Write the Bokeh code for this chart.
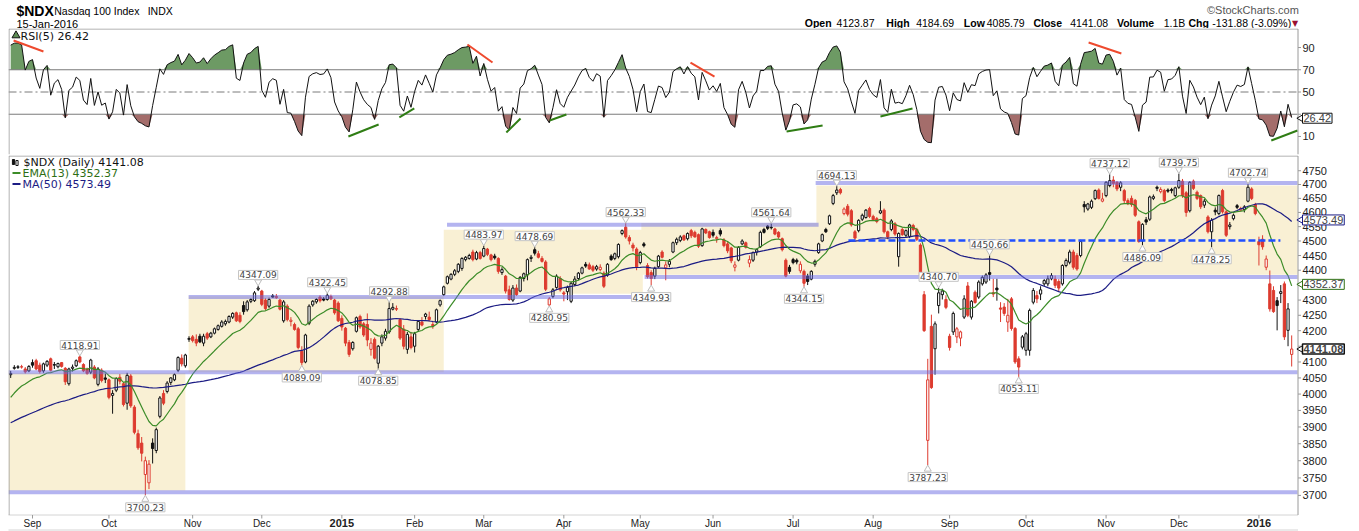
import numpy as np
import pandas as pd
from bokeh.plotting import figure
from bokeh.layouts import column
from bokeh.models import Range1d, Label
from bokeh.core.properties import value
from bokeh.embed import file_html
from bokeh.resources import INLINE

# ---------------- data (O, H, L, C per trading day) ----------------
ohlc_2014_08 = [(4060,4072,4050,4064),(4080,4090,4076,4083),(4083,4090,4078,4085),(4085,4091,4079,4084),(4078,4084,4064,4069),(4072,4090,4068,4086)]
ohlc_2014_09 = [(4098,4108,4082,4090),(4104,4110,4074,4078),(4090,4098,4064,4070),(4072,4098,4066,4094),(4090,4106,4084,4102),
    (4110,4114,4070,4074),(4092,4100,4078,4090),(4085,4098,4080,4095),(4098,4100,4082,4086),(4080,4084,4028,4038),
    (4032,4082,4026,4078),(4080,4092,4070,4084),(4088,4108,4084,4104),(4116,4118.91,4096,4100),(4092,4096,4068,4072),
    (4078,4082,4060,4064),(4068,4110,4062,4106),(4084,4090,4046,4050),(4030,4084,4024,4078),(4074,4080,4036,4042),
    (4050,4064,4034,4046)]
ohlc_2014_10 = [(4044,4048,3984,3990),(3996,4012,3940,4002),(4012,4052,4006,4048),(4052,4062,4030,4040),(4032,4036,3962,3968),
    (3972,4066,3952,4058),(4056,4062,3958,3964),(3960,3966,3878,3884),(3880,3892,3832,3838),(3852,3870,3798,3822),
    (3760,3812,3700.23,3800),(3736,3802,3718,3790),(3852,3866,3792,3836),(3830,3898,3822,3892),(3932,3994,3926,3988),
    (4002,4012,3966,3972),(4008,4040,4002,4034),(4036,4052,4028,4050),(4044,4064,4040,4060),(4074,4118,4068,4114),
    (4112,4124,4086,4094),(4088,4126,4082,4122),(4172,4182,4164,4175)]
ohlc_2014_11 = [(4180,4186,4162,4168),(4172,4188,4150,4160),(4182,4190,4160,4164),(4160,4190,4150,4182),(4190,4196,4170,4176),
    (4180,4196,4176,4192),(4192,4210,4188,4206),(4204,4220,4200,4216),(4214,4234,4210,4228),(4222,4236,4216,4230),
    (4228,4250,4224,4246),(4244,4260,4238,4256),(4258,4262,4228,4232),(4250,4260,4224,4230),(4282,4296,4252,4262),
    (4268,4300,4262,4294),(4296,4306,4290,4302),(4298,4330,4294,4324),(4336,4347.09,4330,4340)]
ohlc_2014_12 = [(4330,4334,4280,4286),(4300,4306,4266,4272),(4280,4308,4274,4302),(4314,4320,4308,4310),(4312,4320,4304,4308),
    (4300,4304,4266,4270),(4232,4300,4226,4294),(4280,4286,4230,4236),(4230,4244,4214,4234),(4220,4226,4200,4204),
    (4206,4212,4140,4146),(4134,4150,4089.09,4098),(4100,4190,4096,4186),(4224,4286,4218,4280),(4284,4300,4278,4296),
    (4294,4306,4288,4302),(4310,4316,4292,4298),(4304,4310,4296,4300),(4302,4322.45,4298,4316),(4312,4318,4300,4304),
    (4300,4304,4252,4258),(4290,4296,4228,4232)]
ohlc_2015_01 = [(4240,4250,4200,4212),(4208,4212,4150,4160),(4162,4170,4116,4124),(4142,4166,4136,4162),(4198,4246,4194,4242),
    (4246,4252,4206,4212),(4222,4228,4180,4186),(4220,4256,4150,4170),(4140,4176,4120,4160),(4172,4178,4108,4112),
    (4096,4154,4078.85,4150),(4160,4188,4150,4180),(4176,4206,4168,4198),(4196,4292.88,4190,4272),(4270,4290,4266,4276),
    (4272,4282,4264,4270),(4236,4240,4170,4176),(4205,4218,4140,4150),(4140,4196,4126,4188),(4180,4196,4140,4146)]
ohlc_2015_02 = [(4150,4196,4130,4190),(4204,4234,4196,4230),(4228,4244,4214,4218),(4246,4258,4236,4254),(4244,4262,4230,4236),
    (4220,4232,4206,4216),(4228,4272,4224,4268),(4284,4302,4278,4298),(4318,4348,4314,4344),(4356,4382,4352,4378),
    (4370,4390,4366,4386),(4386,4404,4380,4398),(4396,4424,4390,4420),(4406,4444,4398,4440),(4436,4448,4430,4444),
    (4440,4456,4436,4450),(4462,4470,4430,4436),(4438,4466,4434,4460),(4460,4466,4436,4440)]
ohlc_2015_03 = [(4448,4483.97,4444,4474),(4472,4476,4448,4454),(4452,4456,4430,4436),(4448,4456,4436,4442),(4440,4444,4388,4396),
    (4392,4410,4384,4402),(4380,4384,4322,4330),(4334,4348,4298,4302),(4300,4350,4294,4340),(4340,4352,4314,4318),
    (4330,4380,4326,4376),(4372,4392,4362,4388),(4384,4440,4366,4436),(4440,4452,4428,4444),(4470,4478.69,4450,4458),
    (4456,4466,4440,4444),(4440,4448,4426,4430),(4428,4434,4330,4336),(4284,4310,4280.95,4304),(4312,4340,4306,4334),
    (4342,4386,4338,4380),(4372,4380,4328,4334)]
ohlc_2015_04 = [(4324,4330,4296,4320),(4328,4348,4300,4342),(4296,4360,4290,4356),(4352,4380,4346,4370),(4372,4394,4366,4390),
    (4390,4412,4386,4408),(4420,4428,4408,4414),(4418,4426,4402,4404),(4412,4418,4394,4400),(4404,4418,4398,4412),
    (4402,4420,4396,4410),(4390,4396,4340,4346),(4384,4424,4378,4420),(4448,4454,4432,4436),(4440,4460,4434,4456),
    (4446,4492,4440,4488),(4526,4540,4520,4536),(4548,4562.33,4508,4514),(4512,4520,4488,4500),(4486,4494,4464,4476),
    (4472,4478,4400,4410)]
ohlc_2015_05 = [(4426,4466,4420,4460),(4490,4496,4478,4484),(4416,4424,4372,4378),(4392,4400,4349.93,4372),(4380,4412,4370,4406),
    (4412,4452,4408,4448),(4462,4468,4440,4444),(4408,4430,4366,4418),(4420,4438,4410,4430),(4462,4498,4458,4494),
    (4494,4512,4486,4506),(4502,4520,4496,4514),(4518,4522,4500,4504),(4508,4530,4502,4526),(4536,4542,4510,4518),
    (4530,4536,4512,4514),(4522,4526,4476,4482),(4484,4546,4480,4542),(4540,4544,4524,4528),(4532,4536,4508,4512)]
ohlc_2015_06 = [(4530,4540,4512,4520),(4508,4518,4494,4512),(4536,4544,4516,4524),(4504,4510,4478,4484),(4490,4496,4458,4466),
    (4476,4480,4424,4432),(4410,4430,4396,4418),(4434,4482,4430,4478),(4490,4506,4486,4500),(4494,4498,4474,4478),
    (4424,4450,4410,4436),(4434,4464,4428,4460),(4462,4474,4450,4470),(4480,4536,4476,4530),(4540,4546,4526,4530),
    (4552,4556,4538,4544),(4548,4561.64,4540,4546),(4542,4546,4520,4524),(4530,4534,4508,4514),(4508,4512,4464,4470),
    (4434,4440,4376,4380),(4410,4418,4388,4396)]
ohlc_2015_07 = [(4436,4442,4420,4426),(4434,4440,4420,4428),(4398,4430,4390,4420),(4396,4402,4344.15,4356),(4380,4388,4350,4362),
    (4370,4400,4366,4396),(4420,4436,4412,4430),(4460,4494,4456,4490),(4500,4526,4496,4522),(4540,4546,4528,4532),
    (4560,4592,4556,4588),(4632,4666,4626,4660),(4670,4694.13,4662,4680),(4682,4688,4664,4670),(4596,4618,4590,4612),
    (4622,4630,4586,4594),(4606,4612,4550,4556),(4532,4538,4504,4510),(4536,4576,4530,4572),(4576,4596,4570,4590),
    (4582,4612,4578,4608),(4614,4620,4580,4586)]
ohlc_2015_08 = [(4586,4592,4570,4574),(4578,4584,4562,4568),(4598,4640,4594,4606),(4608,4614,4526,4532),(4532,4536,4506,4514),
    (4540,4576,4534,4570),(4560,4566,4518,4524),(4446,4530,4412,4526),(4540,4546,4518,4522),(4520,4540,4514,4536),
    (4516,4560,4510,4556),(4554,4560,4534,4540),(4540,4546,4500,4506),(4486,4492,4376,4380),(4318,4330,4196,4200),
    (3860,4110,3787.23,4044),(4214,4252,4016,4020),(4142,4230,4060,4222),(4282,4340.70,4256,4324),(4318,4338,4302,4330),
    (4302,4316,4270,4276)]
ohlc_2015_09 = [(4182,4190,4136,4146),(4196,4262,4186,4256),(4180,4212,4160,4206),(4176,4200,4150,4196),(4244,4316,4238,4304),
    (4347,4360,4244,4250),(4244,4300,4236,4296),(4326,4332,4288,4292),(4310,4366,4304,4360),(4354,4382,4348,4376),
    (4360,4390,4354,4384),(4392,4450.66,4365,4386),(4324,4371,4310,4320),(4340,4371,4298,4334),(4274,4293,4228,4270),
    (4277,4290,4248,4256),(4228,4304,4196,4250),(4304,4310,4200,4207),(4207,4212,4094,4100),(4110,4118,4053.11,4084),
    (4147,4186,4140,4180)]
ohlc_2015_10 = [(4137,4196,4120,4190),(4137,4272,4120,4266),(4293,4340,4286,4332),(4315,4330,4290,4304),(4320,4346,4300,4334),
    (4354,4370,4346,4365),(4354,4382,4346,4371),(4371,4390,4366,4382),(4370,4382,4340,4349),(4362,4370,4330,4340),
    (4354,4420,4348,4416),(4416,4440,4410,4433),(4427,4470,4420,4462),(4462,4470,4402,4410),(4450,4458,4398,4404),
    (4450,4504,4444,4498),(4628,4640,4600,4620),(4612,4634,4606,4630),(4618,4646,4612,4640),(4649,4682,4644,4678),
    (4680,4686,4646,4650),(4640,4670,4636,4648)]
ohlc_2015_11 = [(4660,4712,4654,4708),(4696,4737.12,4690,4714),(4716,4730,4690,4704),(4708,4712,4676,4684),(4690,4712,4676,4706),
    (4678,4684,4630,4642),(4642,4650,4626,4631),(4650,4660,4620,4628),(4643,4648,4584,4590),(4567,4572,4494,4498),
    (4500,4562,4486.09,4558),(4574,4584,4556,4566),(4576,4660,4570,4655),(4650,4664,4644,4656),(4690,4696,4676,4686),
    (4674,4690,4668,4682),(4678,4684,4636,4642),(4680,4686,4670,4676),(4682,4688,4668,4678),(4660,4692,4654,4688)]
ohlc_2015_12 = [(4690,4739.75,4684,4714),(4712,4720,4652,4660),(4670,4676,4585,4600),(4606,4712,4600,4708),(4712,4718,4680,4686),
    (4672,4678,4644,4650),(4660,4664,4612,4620),(4626,4648,4616,4640),(4584,4590,4526,4532),(4532,4580,4478.25,4572),
    (4608,4618,4590,4602),(4596,4664,4590,4660),(4678,4684,4596,4602),(4602,4608,4514,4520),(4550,4566,4540,4556),
    (4578,4596,4572,4590),(4624,4630,4612,4618),(4608,4620,4604,4614),(4610,4626,4600,4620),(4640,4702.74,4636,4690),
    (4684,4690,4644,4650),(4628,4634,4590,4596)]
ohlc_2016_01 = [(4498,4515,4416,4487),(4506,4520,4470,4480),(4410,4450,4400,4438),(4354,4399,4262,4271),(4332,4346,4258,4262),
    (4298,4310,4201,4282),(4322,4350,4290,4328),(4354,4362,4170,4180),(4201,4290,4150,4271),(4123.87,4184.69,4085.79,4141.08)]

# closes before the first bar (only used to seed the moving averages / RSI)
warmup_closes = [3800,3790,3800,3815,3820,3840,3845,3850,3850,3835,3855,3860,3870,3880,
    3910,3920,3935,3920,3880,3905,3895,3900,3925,3905,3915,3870,3920,3915,3935,3960,3965,3945,3945,3940,3950,3890,
    3875,3905,3875,3880,3865,3905,3930,3925,3960,3980,3990,4015,4030,4030,4035]

market_holidays = ["2014-09-01","2014-11-27","2014-12-25","2015-01-01","2015-01-19","2015-02-16","2015-04-03",
                   "2015-05-25","2015-07-03","2015-09-07","2015-11-26","2015-12-25","2016-01-01"]

high_labels = [4118.91, 4347.09, 4322.45, 4292.88, 4483.97, 4478.69, 4562.33, 4561.64, 4694.13, 4340.70,
               4450.66, 4737.12, 4739.75, 4702.74]
low_labels = [3700.23, 4089.09, 4078.85, 4280.95, 4349.93, 4344.15, 3787.23, 4053.11, 4486.09, 4478.25]

# last values shown in the tags on the right-hand axis
tag_values = [4573.49, 4352.37, 4141.08]
rsi_last = 26.42

# shaded trading ranges (x in bar index units, y in price)
box_left = [-0.6, 48.9, 119.0, 173.3, 221.4]
box_right = [48.0, 119.0, 173.7, 222.0, 353.6]
box_bottom = [3714, 4068, 4321, 4385, 4385]
box_top = [4065, 4313, 4539, 4563, 4696]

# support / resistance lines
sr_level = [4068, 3709, 4310, 4557, 4377, 4705]
sr_start = [-0.6, -0.6, 48.9, 119.9, 174.2, 221.2]
sr_end = [353.6, 353.6, 173.1, 222.0, 353.6, 353.6]
dash_level, dash_start, dash_end = 4502, 230.2, 348.9

# RSI divergence trendlines (x0, rsi0, x1, rsi1, kind)
rsi_trend = [(0.8, 96.3, 9.0, 86.4, "r"), (92.8, 10.0, 101.1, 20.8, "g"), (106.8, 27.1, 110.9, 35.2, "g"),
             (125.5, 92.7, 132.4, 76.5, "r"), (136.2, 13.6, 140.1, 26.2, "g"), (148.1, 24.4, 152.7, 29.8, "g"),
             (186.8, 76.5, 193.4, 63.9, "r"), (213.2, 14.5, 223.1, 19.9, "g"), (239.0, 28.0, 247.8, 35.2, "g"),
             (296.2, 94.5, 305.2, 84.6, "r"), (346.4, 6.4, 353.6, 15.4, "g")]

price_ticks = [3700, 3750, 3800, 3850, 3900, 3950, 4000, 4050, 4100, 4150, 4200, 4250, 4300, 4350,
               4400, 4450, 4500, 4550, 4600, 4650, 4700, 4750]
rsi_ticks = [10, 30, 50, 70, 90]

# ---------------- preparation ----------------
rows = (ohlc_2014_08 + ohlc_2014_09 + ohlc_2014_10 + ohlc_2014_11 + ohlc_2014_12 + ohlc_2015_01 + ohlc_2015_02 +
        ohlc_2015_03 + ohlc_2015_04 + ohlc_2015_05 + ohlc_2015_06 + ohlc_2015_07 + ohlc_2015_08 + ohlc_2015_09 +
        ohlc_2015_10 + ohlc_2015_11 + ohlc_2015_12 + ohlc_2016_01)
O = np.array([r[0] for r in rows], float)
H = np.array([r[1] for r in rows], float)
L = np.array([r[2] for r in rows], float)
C = np.array([r[3] for r in rows], float)
H = np.maximum(H, np.maximum(O, C))
L = np.minimum(L, np.minimum(O, C))

dates = pd.bdate_range("2014-08-22", "2016-01-15")
dates = dates[~dates.isin(pd.to_datetime(market_holidays))]
N = len(rows)
assert len(dates) == N, (len(dates), N)
idx = np.arange(N)

allc = np.concatenate([np.array(warmup_closes, float), C])
ema13 = pd.Series(allc).ewm(span=13, adjust=False).mean().values[-N:]
ma50 = pd.Series(allc).rolling(50).mean().values[-N:]
dd = np.diff(allc)
gain = np.clip(dd, 0, None)
loss = np.clip(-dd, 0, None)
ag = np.full(len(dd), np.nan)
al = np.full(len(dd), np.nan)
ag[4] = gain[:5].mean()
al[4] = loss[:5].mean()
for k in range(5, len(dd)):
    ag[k] = (ag[k - 1] * 4 + gain[k]) / 5
    al[k] = (al[k - 1] * 4 + loss[k]) / 5
rsi = (100 - 100 / (1 + ag / np.maximum(al, 1e-9)))[-N:]

prevC = np.concatenate([[warmup_closes[-1]], C[:-1]])
RED, BLK = "#dd3b2f", "#111111"
col = np.where(C < prevC, RED, BLK)
fill = np.where(C >= O, "white", col)

# ---------------- geometry ----------------
W = 1359
LB, FW = 8, 1289            # plotting area: x 8..1297
X0, X1 = -0.6, 353.6        # bar-index range across that area
SC = (X1 - X0) / FW
XE = X0 + (W - LB) * SC     # frame extends over the right-hand axis strip
PT, PH = 155, 359
P_TOP, P_BOT = 4806.0, 3646.0
KP = PH / np.log(P_TOP / P_BOT)
RT, RH = 28, 126
R_LO, R_HI = -6.2, 107.1
AXC = "#9a9a9a"


def xd(px):
    return X0 + (px - LB) * SC


def pyv(ypx):
    return P_TOP * np.exp(-(ypx - PT) / KP)


def ryv(ypx):
    return R_HI - (ypx - RT) * (R_HI - R_LO) / RH


FA = "Liberation Sans"
FL = "DejaVu Sans"


def txt(fig, x, y, t, size, bold=False, color="#000000", font=FA, align="left"):
    fig.text(x=x if isinstance(x, list) else [x], y=y if isinstance(y, list) else [y],
             text=t if isinstance(t, list) else [t], text_font=value(font), text_font_size=size,
             text_font_style="bold" if bold else "normal", text_color=color,
             text_baseline="middle", text_align=align)


xr = Range1d(X0, XE)

# ---------------- header ----------------
hdr = figure(width=W, height=RT, x_range=Range1d(0, W), y_range=Range1d(RT, 0), x_axis_type=None,
             y_axis_type=None, toolbar_location=None, output_backend="svg", min_border=0)
hdr.outline_line_color = None
hdr.grid.visible = False

txt(hdr, 8, 10, "$NDX", "14px", bold=True)
txt(hdr, 46, 10, "Nasdaq 100 Index", "10.5px")
txt(hdr, 140, 10, "INDX", "10.5px")
txt(hdr, 8, 23, "15-Jan-2016", "11px")
txt(hdr, 1298, 9, "\u00a9StockCharts.com", "11px", color="#555555", align="right")
hdr_parts = [(801, "Open", True), (833, "4123.87", False), (883, "High", True), (913, "4184.69", False),
             (961, "Low", True), (984, "4085.79", False), (1031, "Close", True), (1068, "4141.08", False),
             (1115, "Volume", True), (1162, "1.1B", False), (1187, "Chg", True), (1211, "-131.88 (-3.09%)", False)]
for x, t, b in hdr_parts:
    txt(hdr, x, 22.5, t, "10.5px", bold=b)
txt(hdr, 1291, 22.5, "\u25bc", "8px", color="#9a1030", font=FL)

# ---------------- RSI panel ----------------
r = figure(width=W, height=RH + 1, x_range=xr, y_range=Range1d(R_LO, R_HI), x_axis_location=None,
           y_axis_location=None, toolbar_location=None, output_backend="svg",
           min_border_left=LB, min_border_right=0, min_border_top=0, min_border_bottom=1)
r.grid.visible = False
r.outline_line_color = None
r.varea(x=idx, y1=np.full(N, 70.0), y2=np.maximum(rsi, 70), fill_color="#6d9a64")
r.varea(x=idx, y1=np.minimum(rsi, 30), y2=np.full(N, 30.0), fill_color="#a46d6b")
for lvl, dash in [(70, "solid"), (30, "solid"), (50, "8 3 2 3")]:
    r.segment(x0=[X0], y0=[lvl], x1=[X1], y1=[lvl], line_color="#7a7a7a", line_width=1, line_dash=dash)
r.line(idx, rsi, color="#111111", line_width=1)
for x0, v0, x1, v1, kind in rsi_trend:
    r.segment(x0=[x0], y0=[v0], x1=[x1], y1=[v1], line_width=2,
              line_color="#ee4a2e" if kind == "r" else "#2f7d14")
# panel frame + right axis
r.segment(x0=[xd(8.5), xd(8.5), xd(1297.5)], y0=[ryv(28.5), ryv(28.5), ryv(28.5)],
          x1=[xd(1297.5), xd(8.5), xd(1297.5)], y1=[ryv(28.5), R_LO, R_LO], line_color=AXC, line_width=1)
r.segment(x0=[xd(1297.5)] * len(rsi_ticks), y0=rsi_ticks, x1=[xd(1300.5)] * len(rsi_ticks), y1=rsi_ticks,
          line_color=AXC)
rsi_lab = [t for t in rsi_ticks if abs(t - rsi_last) > 5]
txt(r, [xd(1302)] * len(rsi_lab), rsi_lab, [str(t) for t in rsi_lab], "11px", color="#222222")
r.scatter(x=[xd(15.5)], y=[ryv(35)], marker="triangle", size=8, fill_color="#5d8c55", line_color="#111111")
r.add_layout(Label(x=xd(20), y=ryv(35.5), text="RSI(5) 26.42", text_font=FL, text_font_size="11px",
                   text_baseline="middle", text_color="#111111"))
r.scatter(x=[xd(1301)], y=[rsi_last], marker="triangle", angle=np.pi / 2, size=8, fill_color="white",
          line_color="#111111")
r.add_layout(Label(x=xd(1302), y=rsi_last, text=f"{rsi_last:.2f}", text_font=FA, text_font_size="11px",
                   text_baseline="middle", background_fill_color="white", border_line_color="#111111",
                   padding=1))

# ---------------- price panel ----------------
p = figure(width=W, height=531 - PT, x_range=xr, y_range=Range1d(pyv(531), P_TOP), y_axis_type="log",
           x_axis_location=None, y_axis_location=None, toolbar_location=None, output_backend="svg",
           min_border_left=LB, min_border_right=0, min_border_top=0, min_border_bottom=0)
p.grid.visible = False
p.outline_line_color = None

p.quad(left=box_left, right=box_right, bottom=box_bottom, top=box_top, fill_color="#f9f0d4", line_color=None)

p.segment(x0=idx, y0=H, x1=idx, y1=L, line_color=col, line_width=1)
p.vbar(x=idx, width=0.62, top=np.maximum(O, C), bottom=np.minimum(O, C), fill_color=fill, line_color=col,
       line_width=1)

p.line(idx, ma50, color="#1c1c84", line_width=1.2)
p.line(idx, ema13, color="#3c8c28", line_width=1.2)

p.segment(x0=sr_start, y0=sr_level, x1=sr_end, y1=sr_level, line_color="#6969e1", line_alpha=0.5,
          line_width=4)
p.segment(x0=[dash_start], y0=[dash_level], x1=[dash_end], y1=[dash_level], line_color="#1f4fff",
          line_width=2.5, line_dash="7 3")

# value call-outs
hi_idx = [int(np.argmin(np.abs(H - v))) for v in high_labels]
lo_idx = [int(np.argmin(np.abs(L - v))) for v in low_labels]
up = np.exp(4.0 / KP)
p.scatter(x=hi_idx, y=[v * up for v in high_labels], marker="inverted_triangle", size=7,
          fill_color="white", line_color="#bdbdbd")
p.scatter(x=lo_idx, y=[v / up for v in low_labels], marker="triangle", size=7,
          fill_color="white", line_color="#bdbdbd")
for i, v in zip(hi_idx, high_labels):
    p.add_layout(Label(x=i, y=v, y_offset=11, text=f"{v:.2f}", text_font=FL, text_font_size="9px",
                       text_align="center", text_baseline="middle", background_fill_color="white",
                       border_line_color="#c4c4c4", padding=1))
for i, v in zip(lo_idx, low_labels):
    p.add_layout(Label(x=i, y=v, y_offset=-12, text=f"{v:.2f}", text_font=FL, text_font_size="9px",
                       text_align="center", text_baseline="middle", background_fill_color="white",
                       border_line_color="#c4c4c4", padding=1))

# legend texts
p.vbar(x=[xd(13), xd(16.5)], width=0.6, top=[pyv(159), pyv(160)], bottom=[pyv(164), pyv(165)],
       fill_color=["#111111", "white"], line_color="#111111")
p.add_layout(Label(x=xd(23), y=pyv(162), text="$NDX (Daily) 4141.08", text_font=FL, text_font_size="11px",
                   text_baseline="middle", text_color="#111111"))
p.add_layout(Label(x=xd(22), y=pyv(172.5), text="EMA(13) 4352.37", text_font=FL, text_font_size="11px",
                   text_baseline="middle", text_color="#2e6e14"))
p.add_layout(Label(x=xd(22), y=pyv(183.5), text="MA(50) 4573.49", text_font=FL, text_font_size="11px",
                   text_baseline="middle", text_color="#1c1c84"))
p.segment(x0=[xd(12), xd(12)], y0=[pyv(172.5), pyv(183.5)], x1=[xd(20), xd(20)], y1=[pyv(172.5), pyv(183.5)],
          line_color=["#3c8c28", "#1c1c84"], line_width=2)

# panel frame, right price axis and bottom date axis
p.segment(x0=[xd(8.5), xd(8.5), xd(1297.5)], y0=[pyv(155.5), pyv(155.5), pyv(155.5)],
          x1=[xd(1297.5), xd(8.5), xd(1297.5)], y1=[pyv(155.5), pyv(514.5), pyv(514.5)],
          line_color=AXC, line_width=1)
p.segment(x0=[xd(8), xd(8)], y0=[pyv(514.5), pyv(529.5)], x1=[xd(1297.5), xd(1297.5)],
          y1=[pyv(514.5), pyv(529.5)], line_color="#a8a8a8", line_width=1, line_dash="1 1")
p.segment(x0=[xd(1297.5)] * len(price_ticks), y0=price_ticks, x1=[xd(1300.5)] * len(price_ticks),
          y1=price_ticks, line_color=AXC)
# tick labels hidden underneath the value tags are left out
price_lab = [t for t in price_ticks if min(abs(np.log(t / v)) * KP for v in tag_values) > 6.5]
txt(p, [xd(1302)] * len(price_lab), price_lab, [str(t) for t in price_lab], "11px", color="#222222")

month_first = [i for i in range(1, N) if dates[i].month != dates[i - 1].month]
p.segment(x0=month_first, y0=[pyv(514.5)] * len(month_first), x1=month_first,
          y1=[pyv(518)] * len(month_first), line_color=AXC)
for i in month_first:
    d = dates[i]
    if d.month == 1:
        txt(p, float(i), pyv(522.5), str(d.year), "11px", bold=True, color="#222222", align="center")
    else:
        txt(p, float(i), pyv(522.5), d.strftime("%b"), "10px", color="#222222", align="center")

# right-axis value tags
for v, bc, bold in zip(tag_values, ["#1c1c84", "#2e6e14", "#111111"], [False, False, True]):
    p.scatter(x=[xd(1301)], y=[v], marker="triangle", angle=np.pi / 2, size=8, fill_color="white", line_color=bc)
    p.add_layout(Label(x=xd(1302), y=v, text=f"{v:.2f}", text_font=FA, text_font_size="11px",
                       text_font_style="bold" if bold else "normal", text_baseline="middle",
                       background_fill_color="white", border_line_color=bc, border_line_width=1.5 if bold else 1,
                       padding=1))

layout = column(hdr, r, p, spacing=0)
open("out.html", "w").write(file_html(layout, INLINE))
